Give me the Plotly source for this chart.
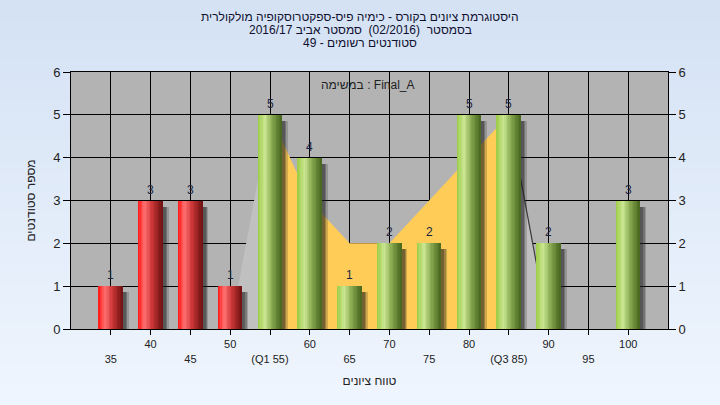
import plotly.graph_objects as go

# ---------------- data ----------------
categories = [35, 40, 45, 50, 55, 60, 65, 70, 75, 80, 85, 90, 95, 100]
counts = [1, 3, 3, 1, 5, 4, 1, 2, 2, 5, 5, 2, 0, 3]
tick_labels = ["35", "40", "45", "50", "(Q1 55)", "60", "65", "70", "75", "80",
               "(Q3 85)", "90", "95", "100"]
pass_grade = 55
# outline curve behind bars
left_x = [50, 55]
left_y = [0, 5]
iqr_x = [55, 60, 65, 70, 75, 80, 85]
iqr_y = [5, 3, 2, 2, 3, 4, 5]
right_x = [85, 90]
right_y = [5, 0]

title_lines = [
    "היסטוגרמת ציונים בקורס - כימיה פיס-ספקטרוסקופיה מולקולרית",
    "בסמסטר  (02/2016)  סמסטר אביב 2016/17",
    "סטודנטים רשומים - 49",
]
inner_label = "במשימה : Final_A"
x_title = "טווח ציונים"
y_title = "מספר סטודנטים"

# ---------------- style helpers ----------------
FONT = "Liberation Sans, Arial, DejaVu Sans, sans-serif"
W, H = 720, 405
ML, MR, MT, MB = 71, 52, 72, 76
PH = H - MT - MB
PW = W - ML - MR


def hex2rgb(h):
    h = h.lstrip("#")
    return [int(h[i:i + 2], 16) for i in (0, 2, 4)]


def interp(stops, t):
    for (t0, c0), (t1, c1) in zip(stops, stops[1:]):
        if t0 <= t <= t1:
            f = (t - t0) / (t1 - t0) if t1 > t0 else 0
            a, b = hex2rgb(c0), hex2rgb(c1)
            return "rgb(%d,%d,%d)" % tuple(round(a[i] + (b[i] - a[i]) * f) for i in range(3))
    return stops[-1][1]


red_stops = [(0, "#FF1515"), (0.28, "#FF7272"), (0.55, "#D23A3A"), (1, "#6E1212")]
green_stops = [(0, "#9CCB45"), (0.3, "#CBE692"), (0.6, "#88AA50"), (1, "#48651E")]

fig = go.Figure()

# background gradient (paper)
top_c, bot_c = "#D4E2F4", "#EFF5FE"
n_str = 40
y_top = 1 + MT / PH
y_bot = -MB / PH
for i in range(n_str):
    t = i / (n_str - 1)
    y0 = y_top - (y_top - y_bot) * i / n_str
    y1 = y_top - (y_top - y_bot) * (i + 1) / n_str
    fig.add_shape(type="rect", xref="paper", yref="paper", x0=-0.2, x1=1.2,
                  y0=y1 - 0.002, y1=y0, fillcolor=interp([(0, top_c), (1, bot_c)], t),
                  line_width=0, layer="below")
fig.add_shape(type="rect", xref="paper", yref="paper", x0=0, x1=1, y0=0, y1=1,
              fillcolor="#B3B3B3", line_width=0, layer="below")

# areas (main subplot, drawn beneath the bar subplot)
fig.add_trace(go.Scatter(x=left_x, y=left_y, fill="tozeroy", fillcolor="#C0C0C0",
                         mode="lines", line=dict(width=0, color="#C0C0C0"),
                         hoverinfo="skip", showlegend=False))
fig.add_trace(go.Scatter(x=right_x, y=right_y, fill="tozeroy", fillcolor="#C0C0C0",
                         mode="lines", line=dict(width=1.2, color="#3A3A3A"),
                         hoverinfo="skip", showlegend=False))
fig.add_trace(go.Scatter(x=iqr_x, y=iqr_y, fill="tozeroy", fillcolor="#FFCC58",
                         mode="lines", line=dict(width=0, color="#FFCC58"),
                         hoverinfo="skip", showlegend=False))

BAR_W = 3.0
# shadows
for shift, alpha in [(0.75, 0.2), (0.55, 0.28), (0.4, 0.33)]:
    fig.add_trace(go.Bar(x=categories, y=counts, base=-0.14, width=BAR_W,
                         offset=-BAR_W / 2 + shift, yaxis="y2",
                         marker=dict(color="rgba(30,30,30,%.2f)" % alpha, line_width=0),
                         hoverinfo="skip", showlegend=False))

# gradient bars as slices
N = 18
for i in range(N):
    t = (i + 0.5) / N
    cols = [interp(red_stops if c < pass_grade else green_stops, t) for c in categories]
    fig.add_trace(go.Bar(x=categories, y=counts, width=BAR_W / N * 1.15,
                         offset=-BAR_W / 2 + i * BAR_W / N, yaxis="y2",
                         marker=dict(color=cols, line_width=0),
                         hoverinfo="skip", showlegend=False))

# value labels
for c, v in zip(categories, counts):
    if v > 0:
        fig.add_annotation(x=c, y=v, xref="x", yref="y2", text=str(v), showarrow=False,
                           yanchor="middle", yshift=11,
                           font=dict(family=FONT, size=12, color="#1C2440"))

ticktext = [("<br>" + t) if i % 2 == 0 else t for i, t in enumerate(tick_labels)]

fig.update_layout(
    width=W, height=H,
    margin=dict(l=ML, r=MR, t=MT, b=MB, autoexpand=False),
    paper_bgcolor="#E2ECF8", plot_bgcolor="#B3B3B3",
    barmode="overlay", bargap=0,
    font=dict(family=FONT, size=11, color="#222222"),
    xaxis=dict(range=[30, 105], tickvals=categories, ticktext=ticktext,
               showgrid=True, gridcolor="black", gridwidth=1,
               showline=True, linecolor="black", linewidth=1, mirror=True,
               ticks="outside", ticklen=5, tickcolor="black",
               tickfont=dict(size=11, color="#222222"),
               title=dict(text=x_title, font=dict(size=12, color="#222222"), standoff=13),
               zeroline=False, fixedrange=True),
    yaxis=dict(range=[0, 6], dtick=1, showgrid=True, gridcolor="black", gridwidth=1,
               showline=True, linecolor="black", linewidth=1,
               ticks="outside", ticklen=7, tickcolor="black",
               tickfont=dict(size=13, color="#222222"),
               title=dict(text=y_title, font=dict(size=12, color="#222222"), standoff=14),
               zeroline=False, fixedrange=True),
    yaxis2=dict(range=[0, 6], dtick=1, overlaying="y", side="right", showgrid=False,
                showline=True, linecolor="black", linewidth=1,
                ticks="outside", ticklen=7, tickcolor="black",
                tickfont=dict(size=13, color="#222222"), zeroline=False, fixedrange=True),
)

# titles
for i, line in enumerate(title_lines):
    py = 17 + 13 * i
    fig.add_annotation(text=line, xref="paper", yref="paper", x=(360 - ML) / PW,
                       y=(H - MB - py) / PH, xanchor="center", yanchor="middle",
                       showarrow=False, font=dict(family=FONT, size=12, color="#101030"))
fig.add_annotation(text=inner_label, xref="paper", yref="paper", x=(368 - ML) / PW,
                   y=(H - MB - 85) / PH, xanchor="center", yanchor="middle",
                   showarrow=False, font=dict(family=FONT, size=12, color="#222222"))

fig.write_html("out.html", config={"displayModeBar": False},
               post_script="document.body.style.margin='0px';")
